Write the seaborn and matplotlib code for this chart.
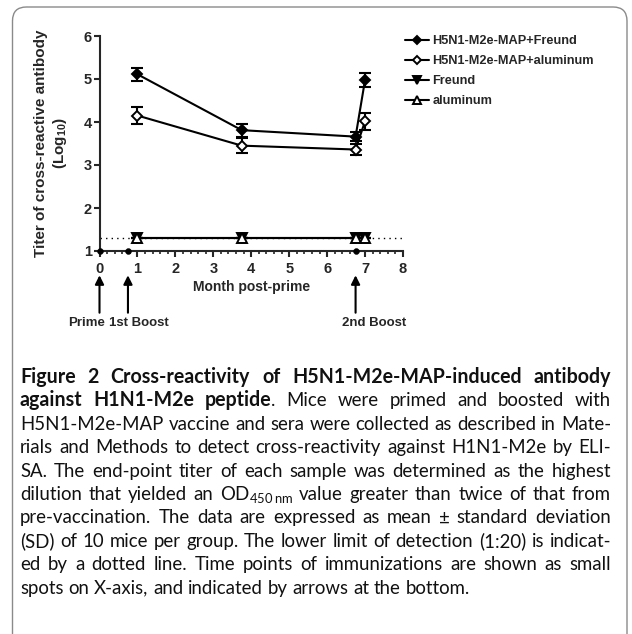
import matplotlib
matplotlib.use('Agg')
import matplotlib.pyplot as plt
from matplotlib.patches import FancyBboxPatch
from matplotlib.ticker import MultipleLocator
import seaborn as sns


#----------------------------------------------------------------------------------------------------
months            = [1, 3.75, 6.75, 7]
map_freund        = [5.11, 3.81, 3.66, 4.98]
map_freund_sd     = [0.15, 0.15, 0.10, 0.17]
map_aluminum      = [4.15, 3.45, 3.36, 4.02]
map_aluminum_sd   = [0.19, 0.18, 0.13, 0.20]
freund_only       = [1.3, 1.3, 1.3, 1.3]
freund_only_sd    = [0, 0, 0, 0]
aluminum_only     = [1.3, 1.3, 1.3, 1.3]
aluminum_only_sd  = [0, 0, 0, 0]

group_names       = ['H5N1-M2e-MAP+Freund', 'H5N1-M2e-MAP+aluminum', 'Freund', 'aluminum']
immunization      = [0, 0.75, 6.75]
immunization_text = ['Prime', '1st Boost', '2nd Boost']
detection_limit   = 1.3
x_ticks           = [0, 1, 2, 3, 4, 5, 6, 7, 8]
y_ticks           = [1, 2, 3, 4, 5, 6]

caption_lines = [
    [('Figure 2 Cross-reactivity of H5N1-M2e-MAP-induced antibody', 'bold')],
    [('against H1N1-M2e peptide', 'bold'), ('. Mice were primed and boosted with', 'normal')],
    [('H5N1-M2e-MAP vaccine and sera were collected as described in Mate-', 'normal')],
    [('rials and Methods to detect cross-reactivity against H1N1-M2e by ELI-', 'normal')],
    [('SA. The end-point titer of each sample was determined as the highest', 'normal')],
    [('dilution that yielded an OD$_{450\\,nm}$ value greater than twice of that from', 'normal')],
    [('pre-vaccination. The data are expressed as mean \u00b1 standard deviation', 'normal')],
    [('(SD) of 10 mice per group. The lower limit of detection (1:20) is indicat-', 'normal')],
    [('ed by a dotted line. Time points of immunizations are shown as small', 'normal')],
    [('spots on X-axis, and indicated by arrows at the bottom.', 'normal')],
]


#----------------------------------------------------------------------------------------------------
sns.set_style('ticks')
plt.rcParams['font.family'] = ['Liberation Sans', 'DejaVu Sans']
plt.rcParams['font.weight'] = 'bold'
plt.rcParams['mathtext.default'] = 'regular'

W, H = 632, 634
fig = plt.figure(figsize=(W / 100, H / 100), dpi=100)
ax = fig.add_axes([99.5 / W, 1 - 251 / H, 303.5 / W, 215 / H])

series = [
    (map_freund,    map_freund_sd,    'D', 'black', 5.5),
    (map_aluminum,  map_aluminum_sd,  'D', 'white', 5.5),
    (freund_only,   freund_only_sd,   'v', 'black', 7.5),
    (aluminum_only, aluminum_only_sd, '^', 'white', 7.5),
]

for (values, sd, marker, face, size), name in zip(series, group_names):
    sns.lineplot(
        x               = months,
        y               = values,
        ax              = ax,
        color           = 'black',
        linewidth       = 1.5,
        marker          = marker,
        markersize      = size,
        markerfacecolor = face,
        markeredgecolor = 'black',
        markeredgewidth = 1.4,
        errorbar        = None,
        label           = name,
        clip_on         = False,
        zorder          = 4
        )
    ax.errorbar(months, values, yerr=sd, fmt='none', ecolor='black',
                elinewidth=1.5, capsize=4, capthick=1.5, zorder=3)

ax.axhline(detection_limit, color='black', linewidth=1, linestyle=(0, (1, 3)), zorder=1)

sns.scatterplot(x=immunization, y=[1] * len(immunization), ax=ax, color='black',
                marker='o', s=18, edgecolor='black', clip_on=False, zorder=5, legend=False)

ax.set_xlim(0, 8)
ax.set_ylim(1, 6)
ax.set_xticks(x_ticks)
ax.set_yticks(y_ticks)
ax.xaxis.set_minor_locator(MultipleLocator(0.2))
sns.despine(ax=ax)
for side in ['left', 'bottom']:
    ax.spines[side].set_linewidth(1.5)
ax.tick_params(which='major', length=4, width=1.5, pad=4, labelsize=10.5)
ax.tick_params(axis='y', pad=1.5)
ax.tick_params(which='minor', length=2.5, width=1.2)

ax.set_xlabel('Month post-prime', fontsize=10, fontweight='bold')
ax.xaxis.set_label_coords(0.5, -0.135)
ax.set_ylabel('Titer of cross-reactive antibody\n(Log$_{10}$)', fontsize=11,
              fontweight='bold', linespacing=1.25)
ax.yaxis.set_label_coords(-0.1, 0.5)

ax.legend(loc='upper left', bbox_to_anchor=(405 / W, 1 - 35 / H), bbox_transform=fig.transFigure,
          frameon=False, prop={'weight': 'bold', 'size': 9.2}, handlelength=1.9,
          handletextpad=0.25, labelspacing=0.63, borderpad=0, borderaxespad=0, markerscale=0.8)

#----------------------------------------------------------------------------------------------------
label_place = [(0.15, 'right'), (0.25, 'left'), (6.38, 'left')]
for x, text, (tx, align) in zip(immunization, immunization_text, label_place):
    ax.annotate('', xy=(x, -0.1), xytext=(x, -0.3), xycoords=ax.get_xaxis_transform(),
                arrowprops=dict(arrowstyle='-|>', color='black', lw=1.5, mutation_scale=13),
                annotation_clip=False)
    ax.text(tx, -0.335, text, transform=ax.get_xaxis_transform(), ha=align, va='center',
            fontsize=9.5, fontweight='bold')

#----------------------------------------------------------------------------------------------------
fig.patches.append(FancyBboxPatch((12.5 / W, -0.2), (627 - 12.5) / W, 1.2 - 7 / H,
                                  boxstyle='round,pad=0,rounding_size=0.022',
                                  transform=fig.transFigure, facecolor='none',
                                  edgecolor='#8a8a8a', linewidth=1, zorder=0))


#----------------------------------------------------------------------------------------------------
renderer = fig.canvas.get_renderer()
cap_font = ['Lato', 'DejaVu Sans']
left, right = 20, 611


def text_width(s, weight, size):
    t = fig.text(0, 0, s, family=cap_font, fontweight=weight, fontsize=size)
    w = t.get_window_extent(renderer).width
    t.remove()
    return w


def split_words(pieces):
    tokens = []
    for text, weight in pieces:
        parts = text.split(' ')
        for i, p in enumerate(parts):
            if not p:
                continue
            if i == 0 and tokens and not text.startswith(' '):
                tokens[-1].append((p, weight))
            else:
                tokens.append([(p, weight)])
    return tokens


# pick a size so the fullest plain line just fits the column
natural = max(sum(text_width(s, w, 12) for s, w in pieces) for pieces in caption_lines[2:-1])
cap_size = 12 * (right - left - 4) / natural
space = text_width('a b', 'normal', cap_size) - text_width('ab', 'normal', cap_size)

for k, pieces in enumerate(caption_lines):
    y = 1 - (383 + 23.4 * k) / H
    tokens = split_words(pieces)
    placed = []
    total = 0
    for tok in tokens:
        for j, (s, weight) in enumerate(tok):
            size = cap_size * (1.05 if weight == 'bold' else 1.0)
            t = fig.text(0, y, s, family=cap_font, fontweight=weight, fontsize=size,
                         va='baseline', ha='left', color='#111111')
            w = t.get_window_extent(renderer).width
            placed.append((t, w, j == len(tok) - 1))
            total += w
    last = k == len(caption_lines) - 1
    gap = space if last else (right - left - total) / max(len(tokens) - 1, 1)
    x = left
    for t, w, end in placed:
        t.set_x(x / W)
        x += w
        if end:
            x += gap

fig.savefig('out.png', dpi=100)
